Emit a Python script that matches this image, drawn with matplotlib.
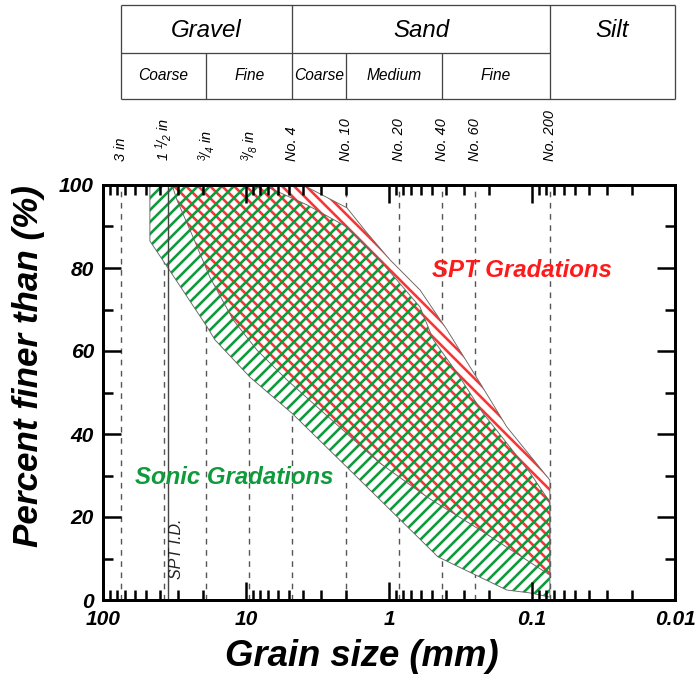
import matplotlib
matplotlib.use("Agg")
import matplotlib.pyplot as plt
from matplotlib.ticker import FixedLocator, FixedFormatter, LogLocator, NullFormatter

# ---------------- data ----------------
sieve_mm = [75, 37.5, 19, 9.5, 4.75, 2.0, 0.85, 0.425, 0.25, 0.075]
sieve_labels = ["3 in", r"1 $^{1}\!/_{2}$ in", r"$^{3}\!/_{4}$ in", r"$^{3}\!/_{8}$ in",
                "No. 4", "No. 10", "No. 20", "No. 40", "No. 60", "No. 200"]
spt_id_mm = 34.9

# Sonic gradation envelope
sonic_upper_x = [47, 7.6, 3.74, 1.97, 1.16, 0.607, 0.49, 0.334, 0.22, 0.150, 0.103, 0.075]
sonic_upper_y = [100, 100, 95.2, 89.9, 81.9, 70.6, 62.7, 54.7, 45.0, 37.8, 30.6, 23.6]
sonic_lower_x = [0.075, 0.103, 0.150, 0.455, 1.97, 4.77, 9.38, 16.5, 18.7, 35.1, 47]
sonic_lower_y = [0.7, 1.7, 2.4, 10.4, 32.0, 45.0, 53.7, 62.7, 65.8, 80.0, 86.5]

# SPT gradation envelope
spt_upper_x = [32.9, 3.99, 1.97, 1.42, 0.98, 0.607, 0.393, 0.231, 0.150, 0.075]
spt_upper_y = [100, 100, 94.5, 88.4, 81.9, 74.7, 65.1, 52.3, 41.7, 28.9]
spt_lower_x = [0.075, 0.231, 0.542, 1.16, 5.16, 8.37, 12.3, 17.9, 23.5, 30.4]
spt_lower_y = [6.0, 16.9, 24.8, 33.0, 53.0, 60.2, 67.5, 77.8, 87.5, 96.4]

x_ticks = [100, 10, 1, 0.1, 0.01]
x_tick_labels = ["100", "10", "1", "0.1", "0.01"]
y_ticks = [0, 20, 40, 60, 80, 100]

# classification table
table_bounds = [75, 4.75, 0.075, 0.01]          # full-height dividers
sub_bounds = [19, 2.0, 0.425]                   # lower-row dividers
main_names = ["Gravel", "Sand", "Silt"]
main_pos = [18.9, 0.597, 0.0274]
sub_names = ["Coarse", "Fine", "Coarse", "Medium", "Fine"]
sub_pos = [37.7, 9.5, 3.08, 0.922, 0.1785]

GREEN = "#0f9a3c"
RED = "#ff1a1a"
RED_HATCH = "#ff3333"

# ---------------- figure ----------------
DPI = 72
plt.rcParams["font.family"] = ["Liberation Sans", "DejaVu Sans"]
plt.rcParams["mathtext.fontset"] = "custom"
plt.rcParams["mathtext.rm"] = "Liberation Sans:italic"
plt.rcParams["mathtext.it"] = "Liberation Sans:italic"
plt.rcParams["hatch.linewidth"] = 2.6

W, H = 700, 676
fig = plt.figure(figsize=(W / DPI, H / DPI), dpi=DPI)
fig.patch.set_facecolor("white")

ax = fig.add_axes([103 / W, 76 / H, 572 / W, 415 / H])
ax.set_xscale("log")
ax.set_xlim(100, 0.01)
ax.set_ylim(0, 100)

# grid of sieve sizes
ax.vlines(sieve_mm, 0, 100, colors="#555555", linestyles=(0, (4, 4)), lw=1.4, zorder=1.0)

sx = sonic_upper_x + sonic_lower_x
sy = sonic_upper_y + sonic_lower_y
px = spt_upper_x + spt_lower_x
py = spt_upper_y + spt_lower_y

ax.fill(sx, sy, facecolor="white", edgecolor="none", lw=0, zorder=1.1)
ax.fill(px, py, facecolor="white", edgecolor="none", lw=0, zorder=1.1)
ax.fill(px, py, facecolor="none", edgecolor=RED_HATCH, hatch="\\\\", lw=0, zorder=1.2)
ax.fill(sx, sy, facecolor="none", edgecolor=GREEN, hatch="//", lw=0, zorder=1.3)
ax.plot(sx + sx[:1], sy + sy[:1], color="#666666", lw=0.9, zorder=1.4)
ax.plot(px + px[:1], py + py[:1], color="#666666", lw=0.9, zorder=1.4)

# SPT inside diameter
ax.vlines([spt_id_mm], 0, 100, colors="#444444", lw=1.4, zorder=1.5)
ax.text(30.4, 5, "SPT I.D.", rotation=90, ha="center", va="bottom",
        fontsize=16, fontstyle="italic", color="#222222")

ax.text(0.50, 79.5, "SPT Gradations", color=RED, fontsize=24,
        fontweight="bold", fontstyle="italic", ha="left", va="center")
ax.text(59.7, 29.6, "Sonic Gradations", color=GREEN, fontsize=24,
        fontweight="bold", fontstyle="italic", ha="left", va="center")

# ticks
ax.xaxis.set_major_locator(FixedLocator(x_ticks))
ax.xaxis.set_major_formatter(FixedFormatter(x_tick_labels))
ax.xaxis.set_minor_locator(LogLocator(base=10, subs=range(2, 10), numticks=20))
ax.xaxis.set_minor_formatter(NullFormatter())
ax.set_yticks(y_ticks)
ax.set_yticks([10, 30, 50, 70, 90], minor=True)
ax.tick_params(which="both", direction="in", top=True, right=True, width=2.5, color="black")
ax.tick_params(which="major", length=18)
ax.tick_params(which="minor", length=10)
ax.tick_params(axis="x", which="major", pad=10)
ax.tick_params(axis="y", which="major", pad=9)
for lab in ax.get_xticklabels() + ax.get_yticklabels():
    lab.set_fontsize(21)
    lab.set_fontweight("bold")
    lab.set_fontstyle("italic")
for sp in ax.spines.values():
    sp.set_linewidth(3)

# sieve labels above plot
for xm, lab in zip(sieve_mm, sieve_labels):
    ax.annotate(lab, xy=(xm, 1), xycoords=("data", "axes fraction"),
                xytext=(0, 24), textcoords="offset points",
                rotation=90, ha="center", va="bottom", fontsize=14.5,
                fontstyle="italic", color="black", annotation_clip=False)

fig.text(29 / W, 1 - 366 / H, "Percent finer than (%)", rotation=90,
         ha="center", va="center", fontsize=35, fontweight="bold", fontstyle="italic")
fig.text(362 / W, 1 - 656 / H, "Grain size (mm)", ha="center", va="center",
         fontsize=36.5, fontweight="bold", fontstyle="italic")

# ---------------- classification table ----------------
at = fig.add_axes([103 / W, (H - 99) / H, 572 / W, 94 / H])
at.set_xscale("log")
at.set_xlim(100, 0.01)
at.set_ylim(0, 1)
at.axis("off")
lc = "#444444"
at.hlines([0, 1], 75, 0.01, colors=lc, lw=1.3, clip_on=False)
at.hlines([0.49], 75, 0.075, colors=lc, lw=1.3, clip_on=False)
at.vlines(table_bounds, 0, 1, colors=lc, lw=1.3, clip_on=False)
at.vlines(sub_bounds, 0, 0.49, colors=lc, lw=1.3, clip_on=False)
for name, xm in zip(main_names, main_pos):
    at.text(xm, 0.734, name, ha="center", va="center", fontsize=24, fontstyle="italic")
for name, xm in zip(sub_names, sub_pos):
    at.text(xm, 0.245, name, ha="center", va="center", fontsize=15.5, fontstyle="italic")

fig.savefig("out.png", dpi=DPI)
